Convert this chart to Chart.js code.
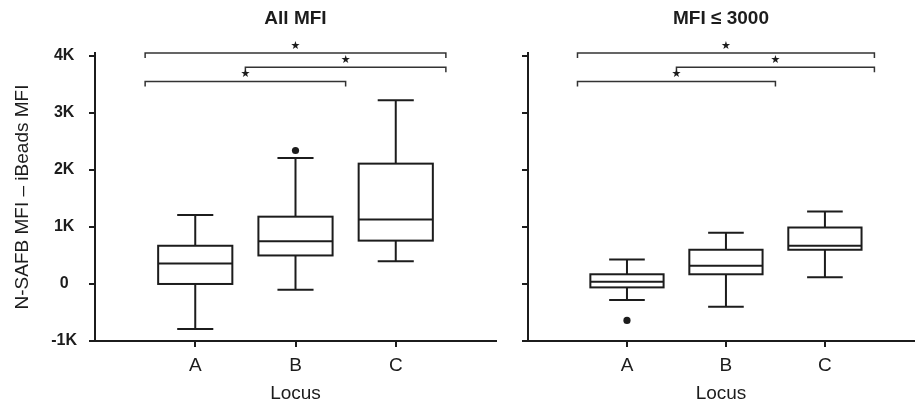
<!DOCTYPE html>
<html>
<head>
<meta charset="utf-8">
<script src="https://cdn.jsdelivr.net/npm/chart.js@4"></script>
<style>
  html, body { margin: 0; padding: 0; background: #fff; }
  #wrap { position: relative; width: 918px; height: 410px; overflow: hidden; }
  #left { position: absolute; left: 0; top: 0; }
  #right { position: absolute; left: 500px; top: 0; }
</style>
</head>
<body>
<div id="wrap">
  <canvas id="left" width="500" height="410"></canvas>
  <canvas id="right" width="418" height="410"></canvas>
</div>
<script>
"use strict"
//box plot data
var categories = ["A", "B", "C"];

//panel 1: all MFI
var allMin = [-790, -100, 400];
var allQ1 = [0, 500, 760];
var allMed = [360, 750, 1130];
var allQ3 = [670, 1180, 2110];
var allMax = [1210, 2210, 3220];
var allOutliers = [[], [2340], []];

//panel 2: MFI <= 3000
var lowMin = [-280, -400, 120];
var lowQ1 = [-60, 170, 600];
var lowMed = [40, 320, 670];
var lowQ3 = [170, 600, 990];
var lowMax = [430, 900, 1270];
var lowOutliers = [[-640], [], []];

//significance brackets (pairs of categories) and their heights
var bracketPairs = [["A", "C"], ["B", "C"], ["A", "B"]];
var bracketLevels = [4050, 3800, 3550];
var bracketLabels = ["\u2605", "\u2605", "\u2605"];

var yTicks = [-1000, 0, 1000, 2000, 3000, 4000];

//styles
var INK = "#1c1c1c";
var FONT = "'Liberation Sans', Arial, sans-serif";
var BOX_W = 0.74;   //box width in x units
var CAP_W = 0.36;   //whisker cap width in x units
var BRACKET_PAD = 0.5;

var boxPlugin = {
  id: "boxes",
  afterDatasetsDraw: function(chart, args, opts) {
    var ctx = chart.ctx, x = chart.scales.x, y = chart.scales.y;
    var s = opts.stats;
    ctx.save();
    ctx.strokeStyle = INK;
    ctx.lineWidth = 2;
    ctx.lineCap = "butt";
    categories.forEach(function(c, i) {
      var cx = x.getPixelForValue(i + 1);
      var hb = x.getPixelForValue(i + 1 + BOX_W / 2) - cx;
      var hc = x.getPixelForValue(i + 1 + CAP_W / 2) - cx;
      var pMin = y.getPixelForValue(s.min[i]), pQ1 = y.getPixelForValue(s.q1[i]);
      var pMed = y.getPixelForValue(s.med[i]), pQ3 = y.getPixelForValue(s.q3[i]);
      var pMax = y.getPixelForValue(s.max[i]);
      ctx.beginPath();
      //whiskers
      ctx.moveTo(cx, pQ3); ctx.lineTo(cx, pMax);
      ctx.moveTo(cx - hc, pMax); ctx.lineTo(cx + hc, pMax);
      ctx.moveTo(cx, pQ1); ctx.lineTo(cx, pMin);
      ctx.moveTo(cx - hc, pMin); ctx.lineTo(cx + hc, pMin);
      ctx.stroke();
      //box
      ctx.fillStyle = "#fff";
      ctx.fillRect(cx - hb, pQ3, hb * 2, pQ1 - pQ3);
      ctx.strokeRect(cx - hb, pQ3, hb * 2, pQ1 - pQ3);
      //median
      ctx.beginPath();
      ctx.moveTo(cx - hb, pMed); ctx.lineTo(cx + hb, pMed);
      ctx.stroke();
    });

    //brackets
    ctx.strokeStyle = "#333";
    ctx.lineWidth = 1.5;
    ctx.fillStyle = INK;
    ctx.font = "11px 'DejaVu Sans', " + FONT;
    ctx.textAlign = "center";
    ctx.textBaseline = "middle";
    bracketPairs.forEach(function(p, k) {
      var x0 = x.getPixelForValue(categories.indexOf(p[0]) + 1 - BRACKET_PAD);
      var x1 = x.getPixelForValue(categories.indexOf(p[1]) + 1 + BRACKET_PAD);
      var by = y.getPixelForValue(bracketLevels[k]);
      ctx.beginPath();
      ctx.moveTo(x0, by + 5); ctx.lineTo(x0, by); ctx.lineTo(x1, by); ctx.lineTo(x1, by + 5);
      ctx.stroke();
      ctx.fillText(bracketLabels[k], (x0 + x1) / 2, by - 7);
    });

    //panel title
    ctx.font = "bold 19px " + FONT;
    ctx.textBaseline = "middle";
    ctx.fillText(opts.title, (chart.chartArea.left + chart.chartArea.right) / 2, 19);
    ctx.restore();
  }
};

function outlierPoints(list) {
  var pts = [];
  list.forEach(function(vals, i) {
    vals.forEach(function(v) { pts.push({x: i + 1, y: v}); });
  });
  return pts;
}

function makePanel(id, title, stats, outliers, xMax, yWidth, showLabels, pad) {
  return new Chart(document.getElementById(id), {
    type: "scatter",
    data: {
      datasets: [{
        label: "outliers",
        data: outlierPoints(outliers),
        pointRadius: 3.6,
        pointBackgroundColor: INK,
        pointBorderWidth: 0
      }]
    },
    options: {
      responsive: false,
      animation: false,
      layout: { padding: pad },
      plugins: {
        legend: { display: false },
        tooltip: { enabled: false },
        boxes: { stats: stats, title: title }
      },
      scales: {
        x: {
          type: "linear",
          min: 0,
          max: xMax,
          afterBuildTicks: function(s) {
            s.ticks = categories.map(function(c, i) { return {value: i + 1}; });
          },
          afterFit: function(s) { s.height = 69; },
          grid: { drawOnChartArea: false, color: INK, lineWidth: 2, tickLength: 6 },
          border: { color: INK, width: 2 },
          ticks: {
            color: INK,
            padding: 7,
            font: { family: FONT, size: 19 },
            callback: function(v) { return categories[v - 1]; }
          },
          title: {
            display: true,
            text: "Locus",
            color: INK,
            font: { family: FONT, size: 19 },
            padding: { top: 0, bottom: 5 }
          }
        },
        y: {
          type: "linear",
          min: -1000,
          max: 4050,
          afterBuildTicks: function(s) {
            s.ticks = yTicks.map(function(v) { return {value: v}; });
          },
          afterFit: function(s) { s.width = yWidth; },
          grid: { drawOnChartArea: false, color: INK, lineWidth: 2, tickLength: 6 },
          border: { color: INK, width: 2 },
          ticks: {
            display: showLabels,
            color: INK,
            padding: 12,
            crossAlign: "center",
            font: { family: FONT, size: 16, weight: "bold" },
            callback: function(v) { return v === 0 ? "0" : (v / 1000) + "K"; }
          },
          title: {
            display: showLabels,
            text: "N-SAFB MFI \u2013 iBeads MFI",
            color: INK,
            font: { family: FONT, size: 19 },
            padding: { top: 11, bottom: 0 }
          }
        }
      }
    },
    plugins: [boxPlugin]
  });
}

makePanel("left", "All MFI",
  { min: allMin, q1: allQ1, med: allMed, q3: allQ3, max: allMax },
  allOutliers, 4, 95, true, { top: 53, right: 4, left: 0, bottom: 0 });

makePanel("right", "MFI \u2264 3000",
  { min: lowMin, q1: lowQ1, med: lowMed, q3: lowQ3, max: lowMax },
  lowOutliers, 3.9, 28, false, { top: 53, right: 0, left: 0, bottom: 0 });
</script>
</body>
</html>
